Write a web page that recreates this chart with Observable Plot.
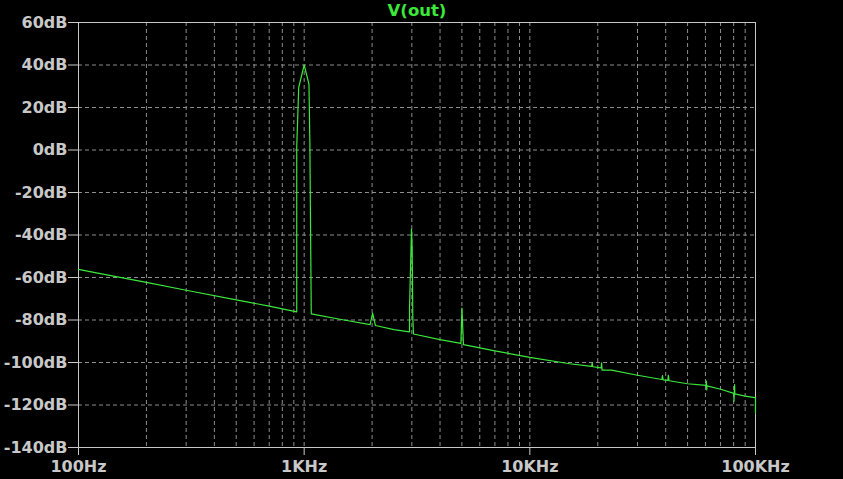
<!DOCTYPE html>
<html>
<head>
<meta charset="utf-8">
<script src="https://cdn.jsdelivr.net/npm/d3@7"></script>
<script src="https://cdn.jsdelivr.net/npm/@observablehq/plot@0.6"></script>
<style>
  html, body { margin: 0; padding: 0; background: #000; }
  #chart svg { display: block; }
</style>
</head>
<body>
<div id="chart"></div>
<script>
const title = "V(out)";

// Frequencies (Hz) and magnitudes (dB)
const freqs = [
  100, 120, 200, 300, 500, 700, 927,
  927, 946, 1000, 1050, 1060, 1075,
  1500, 1960, 2010, 2070, 2500, 2930,
  2930, 2990, 3010, 3030, 3050,
  4000, 4950, 5000, 5080, 7000, 10000, 15000,
  18800, 18900, 19000, 20700, 20800, 20900, 23000,
  30000, 38500, 38700, 39000, 40900, 41100, 41400,
  50000, 60300, 60600, 60800, 61000, 70000,
  80200, 80300, 80800, 81000, 90000, 99500,
  100000, 100000
];
const levels = [
  -56.2, -57.8, -62.3, -66.0, -70.5, -73.5, -76.2,
  1.3, 29.5, 40.0, 31.0, 3.0, -77.1,
  -80.0, -82.2, -76.8, -82.6, -84.5, -85.6,
  -74.3, -37.2, -46.5, -78.7, -86.6,
  -89.2, -91.0, -74.4, -91.6, -94.5, -97.6, -100.6,
  -101.8, -100.2, -102.0, -102.5, -100.2, -103.6, -103.6,
  -106.0, -108.0, -106.2, -108.2, -108.4, -106.0, -108.6,
  -110.0, -110.8, -108.8, -112.9, -111.0, -112.6,
  -114.5, -118.2, -110.4, -114.8, -115.8, -116.5,
  -116.6, -123.9
];

const xTicks = [100, 1000, 10000, 100000];
const xTickLabels = ["100Hz", "1KHz", "10KHz", "100KHz"];
const xGrid = [
  200, 300, 400, 500, 600, 700, 800, 900, 1000,
  2000, 3000, 4000, 5000, 6000, 7000, 8000, 9000, 10000,
  20000, 30000, 40000, 50000, 60000, 70000, 80000, 90000
];
const yTicks = [-140, -120, -100, -80, -60, -40, -20, 0, 20, 40, 60];
const yTickLabels = ["-140dB", "-120dB", "-100dB", "-80dB", "-60dB", "-40dB", "-20dB", "0dB", "20dB", "40dB", "60dB"];
const yGrid = [-120, -100, -80, -60, -40, -20, 0, 20, 40];

const data = freqs.map((f, i) => ({f, db: levels[i]}));

const axisColor = "#c8c8c8";
const gridColor = "#8c8c8c";
const traceColor = "#3be83b";

const chart = Plot.plot({
  width: 843,
  height: 479,
  marginTop: 22,
  marginBottom: 32,
  marginLeft: 78,
  marginRight: 88,
  style: {
    background: "#000",
    color: axisColor,
    fontFamily: "DejaVu Sans",
    fontWeight: "bold",
    fontSize: "16px"
  },
  x: {type: "log", domain: [100, 100000]},
  y: {domain: [-140, 60]},
  marks: [
    Plot.gridX(xGrid, {stroke: gridColor, strokeOpacity: 1, strokeDasharray: "4,3"}),
    Plot.gridY(yGrid, {stroke: gridColor, strokeOpacity: 1, strokeDasharray: "4,3"}),
    Plot.frame({stroke: axisColor}),
    Plot.axisY(yTicks, {
      tickSize: 10, tickPadding: 1, label: null, stroke: axisColor,
      tickFormat: d => yTickLabels[yTicks.indexOf(d)]
    }),
    Plot.axisX(xTicks, {
      tickSize: 8, tickPadding: 5, label: null, stroke: axisColor,
      tickFormat: d => xTickLabels[xTicks.indexOf(d)]
    }),
    Plot.line(data, {x: "f", y: "db", stroke: traceColor, strokeWidth: 1.2}),
    Plot.text([title], {
      frameAnchor: "top", lineAnchor: "middle", dy: -12, fill: traceColor,
      fontSize: 16.5, fontWeight: "bold"
    })
  ]
});

document.getElementById("chart").append(chart);
</script>
</body>
</html>
